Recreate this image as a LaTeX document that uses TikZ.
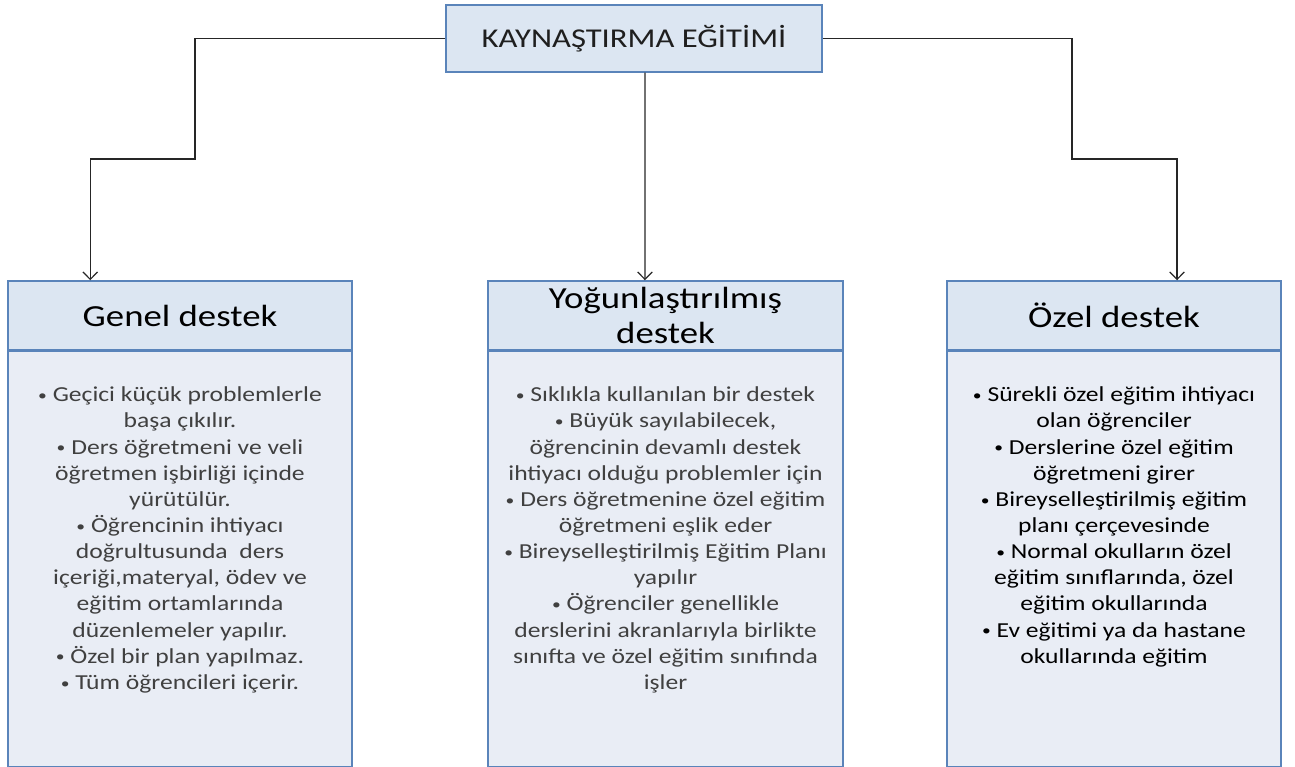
\documentclass[tikz,border=0pt]{standalone}
\usepackage{fontspec}
\setmainfont{Carlito}[FakeStretch=1.2]
\usetikzlibrary{arrows.meta,positioning}
\definecolor{boxline}{HTML}{5A84BA}
\definecolor{headfill}{HTML}{DCE6F2}
\definecolor{bodyfill}{HTML}{E9EDF5}
\definecolor{softgray}{HTML}{404040}
\newdimen\px \px=0.75pt
\newcommand\blt{\raisebox{0.9pt}{\fontsize{11}{11}\selectfont•}}
\tikzset{
  titlebox/.style={draw=boxline, line width=1.5\px, fill=headfill, minimum width=376\px, minimum height=67\px, inner sep=0pt, font=\fontsize{20.4}{25}\selectfont, text=black!88},
  headbox/.style={draw=boxline, line width=1.5\px, fill=headfill, minimum height=69\px, inner sep=0pt, align=center, font=\fontsize{23}{26}\selectfont},
  bodybox/.style={draw=boxline, line width=1.5\px, fill=bodyfill, minimum height=415\px, inner sep=0pt, anchor=north},
  bodytext/.style={anchor=north, align=center, inner sep=0pt, font=\fontsize{16}{19.6}\selectfont, text=softgray},
  link/.style={draw=black!85, line width=0.9pt, -{Straight Barb[length=5.6pt,width=11pt]}}
}
\begin{document}
\begin{tikzpicture}[x=0.75pt, y=-0.75pt]
\useasboundingbox (0,0) rectangle (1295,767);
% top
\node[titlebox] (kaynastirma) at (634,38.5) {KAYNAŞTIRMA EĞİTİMİ};
% columns
\node[headbox, minimum width=344\px] (genel) at (180,315.5) {Genel destek};
\node[headbox, minimum width=355\px] (yogun) at (665.5,315.5) {Yoğunlaştırılmış\\destek};
\node[headbox, minimum width=334\px] (ozel) at (1114,315.5) {Özel destek};
\node[bodybox, minimum width=344\px] (genelbody) at (genel.south) {};
\node[bodybox, minimum width=355\px] (yogunbody) at (yogun.south) {};
\node[bodybox, minimum width=334\px] (ozelbody) at (ozel.south) {};
\node[bodytext] (geneltext) at ([yshift=-27pt]genelbody.north) {\blt{} Geçici küçük problemlerle\\ başa çıkılır.\\ \blt{} Ders öğretmeni ve veli\\ öğretmen işbirliği içinde\\ yürütülür.\\ \blt{} Öğrencinin ihtiyacı\\ doğrultusunda\ \ ders\\ içeriği,materyal, ödev ve\\ eğitim ortamlarında\\ düzenlemeler yapılır.\\ \blt{} Özel bir plan yapılmaz.\\ \blt{} Tüm öğrencileri içerir.};
\node[bodytext] (yoguntext) at ([yshift=-27pt]yogunbody.north) {\blt{} Sıklıkla kullanılan bir destek\\ \blt{} Büyük sayılabilecek,\\ öğrencinin devamlı destek\\ ihtiyacı olduğu problemler için\\ \blt{} Ders öğretmenine özel eğitim\\ öğretmeni eşlik eder\\ \blt{} Bireyselleştirilmiş Eğitim Planı\\ yapılır\\ \blt{} Öğrenciler genellikle\\ derslerini akranlarıyla birlikte\\ sınıfta ve özel eğitim sınıfında\\ işler};
\node[bodytext, text=black] (ozeltext) at ([yshift=-27pt]ozelbody.north) {\blt{} Sürekli özel eğitim ihtiyacı\\ olan öğrenciler\\ \blt{} Derslerine özel eğitim\\ öğretmeni girer\\ \blt{} Bireyselleştirilmiş eğitim\\ planı çerçevesinde\\ \blt{} Normal okulların özel\\ eğitim sınıflarında, özel\\ eğitim okullarında\\ \blt{} Ev eğitimi ya da hastane\\ okullarında eğitim};
% links
\coordinate (leftbend) at (195,159);
\coordinate (rightbend) at (1072,159);
\draw[link] (kaynastirma.west) -| (leftbend) -| ([xshift=62.25pt]genel.north west);
\draw[link] ([xshift=8.25pt]kaynastirma.south) -- ([xshift=-15.4pt]yogun.north);
\draw[link] (kaynastirma.east) -| (rightbend) -| ([xshift=47.25pt]ozel.north);
\end{tikzpicture}
\end{document}
